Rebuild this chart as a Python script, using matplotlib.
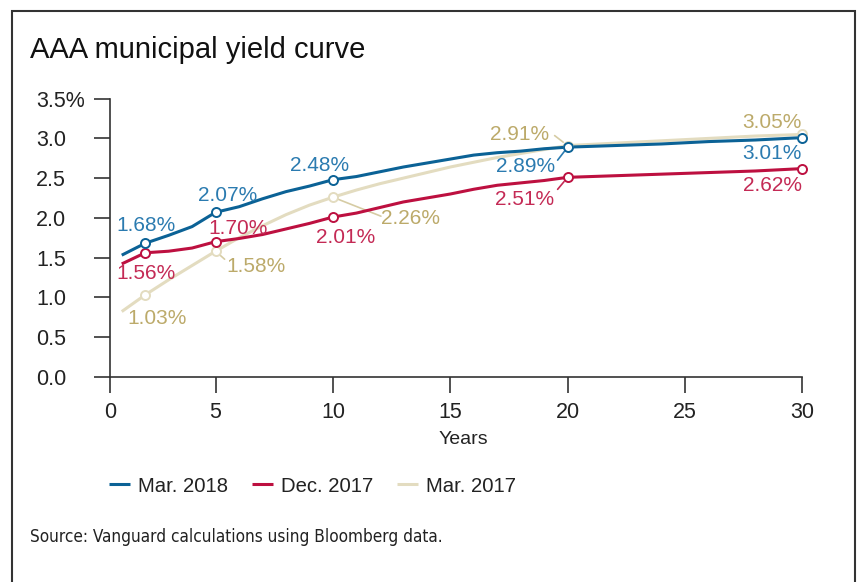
import numpy as np
import matplotlib
matplotlib.use("Agg")
import matplotlib.pyplot as plt
from matplotlib.patches import Rectangle

plt.rcParams['font.family'] = ['Liberation Sans', 'DejaVu Sans']

# data
years = [1, 2, 3, 4, 5, 6, 7, 8, 9, 10, 11, 12, 13, 14, 15,
         16, 17, 18, 19, 20, 22, 24, 26, 28, 30]
mar_2018 = [1.53, 1.68, 1.78, 1.89, 2.07, 2.14, 2.24, 2.33, 2.40, 2.48, 2.52, 2.58, 2.64,
            2.69, 2.74, 2.79, 2.82, 2.84, 2.87, 2.89, 2.91, 2.93, 2.96, 2.98, 3.01]
dec_2017 = [1.42, 1.56, 1.58, 1.62, 1.70, 1.74, 1.79, 1.86, 1.93, 2.01, 2.06, 2.13, 2.20,
            2.25, 2.30, 2.36, 2.41, 2.44, 2.47, 2.51, 2.53, 2.55, 2.57, 2.59, 2.62]
mar_2017 = [0.82, 1.03, 1.22, 1.40, 1.58, 1.75, 1.90, 2.04, 2.16, 2.26, 2.35, 2.43, 2.50,
            2.57, 2.64, 2.70, 2.76, 2.81, 2.86, 2.91, 2.94, 2.97, 3.00, 3.03, 3.05]
marked_years = [2, 5, 10, 20, 30]
series_names = ['Mar. 2018', 'Dec. 2017', 'Mar. 2017']

line_cols = {'Mar. 2018': '#0b6296', 'Dec. 2017': '#bd1040', 'Mar. 2017': '#e3dcc0'}
text_cols = {'Mar. 2018': '#2b7bb0', 'Dec. 2017': '#c42a55', 'Mar. 2017': '#bcaa6a'}
lead_cols = {'Mar. 2018': '#2b7bb0', 'Dec. 2017': '#c42a55', 'Mar. 2017': '#d6cca4'}

# label offsets (pixels) from each marked point, and leader end offset (or None)
offsets = {
    'Mar. 2018': [(1, 18, None), (12, 17, None), (-13, 14, None), (-42, -19, (-10, -13)), (-30, -16, None)],
    'Dec. 2017': [(1, -21, None), (22, 13, None), (13, -20, None), (-43, -22, (-10, -12)), (-30, -17, None)],
    'Mar. 2017': [(12, -24, None), (40, -15, (9, -8)), (78, -21, (48, -19)), (-48, 11, (-13, 10)), (-30, 12, None)],
}
data = {'Mar. 2018': mar_2018, 'Dec. 2017': dec_2017, 'Mar. 2017': mar_2017}

fig = plt.figure(figsize=(8.61, 5.82), dpi=100)
ax = fig.add_axes([110 / 861, 1 - 376.7 / 582, (802.3 - 110) / 861, (376.7 - 98.7) / 582])

for name in ['Mar. 2017', 'Dec. 2017', 'Mar. 2018']:
    ax.plot(years, data[name], color=line_cols[name], lw=2.2, label=name, zorder=2,
            solid_capstyle='butt')
    ys = [data[name][years.index(y)] for y in marked_years]
    ax.plot(marked_years, ys, 'o', ms=6.5, mfc='white', mec=line_cols[name], mew=1.4,
            zorder=3, clip_on=False)
    for (x, y), (dx, dy, lead) in zip(zip(marked_years, ys), offsets[name]):
        ax.annotate(f'{y:.2f}%', (x, y), xytext=(dx, dy), textcoords='offset pixels',
                    ha='center', va='center', fontsize=15, color=text_cols[name], zorder=4)
        if lead is not None:
            ax.annotate('', (x, y), xytext=lead, textcoords='offset pixels',
                        arrowprops=dict(arrowstyle='-', color=lead_cols[name],
                                        lw=1.2, shrinkA=0, shrinkB=4), zorder=2)

ax.set_xlim(0.5, 30)
ax.set_ylim(0, 3.5)
ax.set_xticks([0.5, 5, 10, 15, 20, 25, 30])
ax.set_xticklabels(['0', '5', '10', '15', '20', '25', '30'])
ax.set_yticks(np.arange(0, 3.51, 0.5))
ax.set_yticklabels(['0.0', '0.5', '1.0', '1.5', '2.0', '2.5', '3.0', '3.5%'])
for lbl in ax.get_yticklabels():
    lbl.set_horizontalalignment('left')

for s in ['top', 'right']:
    ax.spines[s].set_visible(False)
for s in ['left', 'bottom']:
    ax.spines[s].set_color('#333333')
    ax.spines[s].set_linewidth(1.2)
ax.tick_params(axis='both', direction='out', length=11.3, width=1.2, color='#333333',
               labelsize=15.5, labelcolor='#222222')
ax.tick_params(axis='y', pad=42)
ax.tick_params(axis='x', pad=7)
ax.set_xlabel('Years', fontsize=14, color='#222222')
ax.xaxis.set_label_coords(0.5 + 7 / 692, -0.195)

handles, labels = ax.get_legend_handles_labels()
order = [labels.index(n) for n in series_names]
fig.legend([handles[i] for i in order], series_names, loc='center left',
           bbox_to_anchor=(109 / 861, 1 - 486 / 582), ncol=3, frameon=False,
           fontsize=14.6, handlelength=1.05, handletextpad=0.4, columnspacing=1.15,
           borderpad=0, borderaxespad=0, labelcolor='#222222')

fig.text(30 / 861, 1 - 50 / 582, 'AAA municipal yield curve', fontsize=21,
         va='center', ha='left', color='#111111')
fig.text(30 / 861, 1 - 537 / 582, 'Source: Vanguard calculations using Bloomberg data.',
         fontsize=12.3, va='center', ha='left', color='#222222',
         family='DejaVu Sans', stretch='condensed')

fig.patches.append(Rectangle((12 / 861, -0.05), (855 - 12) / 861, 1.05 - 10.7 / 582,
                             transform=fig.transFigure, fill=False, ec='#333333', lw=1.5))

fig.savefig('out.png', dpi=100)
